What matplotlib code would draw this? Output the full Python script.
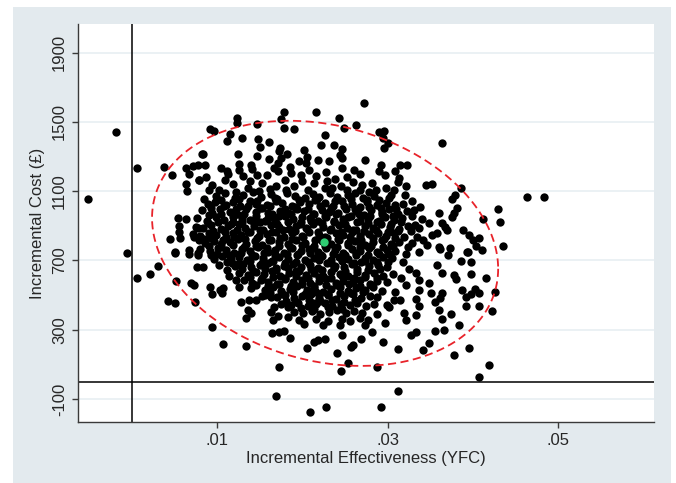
import numpy as np
import matplotlib.pyplot as plt
from matplotlib.patches import Rectangle

plt.rcParams['font.family'] = ['Liberation Sans', 'DejaVu Sans']

# bootstrap replicates
# each pair: (incremental effectiveness in 1/1000 YFC, incremental cost in GBP)
left_pts = [(-5.2, 1054), (-1.9, 1445), (0.6, 1235), (-0.6, 742), (0.55, 600), (2.15, 624),
            (3.1, 668), (5.2, 582), (4.2, 465), (5.0, 453), (7.4, 459), (6.9, 569), (7.3, 559),
            (7.6, 664), (5.0, 742), (6.7, 738), (7.7, 734), (3.75, 1238), (4.65, 1195),
            (6.3, 1237), (7.1, 1246), (7.8, 1252), (8.2, 1314), (6.7, 1200), (7.9, 1164),
            (6.3, 1141), (6.5, 1103), (8.4, 1054), (5.4, 946), (6.3, 942), (5.5, 902), (7.5, 892),
            (7.8, 890), (5.5, 867), (5.6, 832), (4.5, 825), (7.3, 838), (7.9, 819), (8.4, 825),
            (5.0, 751), (6.7, 761), (7.7, 745)]

upper_pts = [(17.8, 1560), (21.6, 1560), (12.3, 1522), (12.3, 1493), (17.5, 1518), (9.1, 1459),
             (9.6, 1450), (14.7, 1488), (17.8, 1468), (19.0, 1460), (11.5, 1431), (11.2, 1393),
             (12.9, 1407), (14.8, 1401), (16.1, 1387), (15.0, 1355), (17.4, 1349), (20.2, 1339),
             (22.2, 1368), (8.3, 1314), (12.4, 1316), (14.7, 1305), (17.2, 1330), (18.2, 1314),
             (20.5, 1295), (17.5, 1291), (8.6, 1252), (12.5, 1258), (14.0, 1252), (16.1, 1287),
             (17.1, 1263), (19.6, 1272), (20.4, 1263), (21.8, 1278), (10.4, 1233), (11.2, 1218),
             (11.3, 1199), (13.0, 1189), (14.1, 1229), (14.7, 1195), (16.7, 1237), (17.1, 1214),
             (18.7, 1205), (19.8, 1195), (21.6, 1189), (8.7, 1185), (9.4, 1137), (7.9, 1166),
             (27.2, 1611), (24.3, 1525), (24.9, 1464), (26.3, 1483), (22.7, 1426), (29.0, 1445),
             (29.6, 1450), (29.4, 1407), (30.1, 1378), (29.6, 1349), (23.7, 1368), (24.6, 1343),
             (24.4, 1310), (24.7, 1291), (27.3, 1281), (23.1, 1272), (29.2, 1252), (31.5, 1252),
             (32.3, 1252), (24.7, 1233), (26.0, 1223), (29.0, 1218), (30.9, 1218), (22.8, 1210),
             (25.2, 1185), (26.7, 1199), (29.7, 1195), (31.3, 1179), (23.8, 1170), (25.9, 1156),
             (28.2, 1147), (31.2, 1152), (32.2, 1133), (34.5, 1137), (35.2, 1141), (23.5, 1121),
             (24.5, 1131), (26.7, 1108), (27.8, 1098), (29.8, 1117), (30.4, 1079), (32.0, 1079),
             (10.2, 1110), (11.9, 1140), (13.6, 1120), (15.3, 1150), (16.2, 1112), (17.9, 1165),
             (19.0, 1128), (20.6, 1105), (21.4, 1150), (22.6, 1118), (12.6, 1225), (15.8, 1195),
             (18.5, 1240), (20.8, 1225), (13.8, 1160), (19.9, 1160), (16.9, 1130), (10.9, 1165),
             (9.0, 1105), (22.9, 1160), (27.0, 1135), (28.6, 1110), (30.8, 1110), (25.2, 1110),
             (12.2, 1098), (14.9, 1102), (18.1, 1105)]

right_pts = [(36.4, 1378), (33.1, 992), (36.0, 973), (33.7, 887), (34.9, 916), (35.8, 858),
             (35.2, 848), (34.1, 819), (36.0, 780), (33.7, 751), (32.4, 780), (38.6, 1117),
             (46.3, 1064), (48.4, 1069), (37.9, 1079), (37.5, 1054), (38.1, 1002), (37.8, 973),
             (37.6, 954), (42.9, 996), (41.2, 940), (43.2, 925), (36.4, 916), (36.7, 896),
             (37.0, 877), (38.9, 877), (39.5, 848), (40.0, 819), (40.7, 829), (40.4, 786),
             (41.1, 758), (43.5, 784), (39.4, 751), (37.3, 770), (36.2, 767), (37.1, 730),
             (39.3, 749), (38.6, 697), (39.8, 691), (36.4, 627), (37.8, 617), (38.0, 592),
             (39.8, 622), (41.5, 600), (38.7, 530), (40.3, 534), (42.6, 520), (39.2, 491),
             (39.8, 505), (40.7, 511), (36.2, 482), (36.4, 511), (39.2, 437), (40.7, 437),
             (42.2, 409), (37.4, 391), (36.4, 361), (36.6, 299), (38.4, 328), (39.5, 193),
             (37.8, 154), (41.9, 97), (40.7, 25),
             (32.9, 1045), (33.8, 1010), (32.8, 955), (34.0, 940), (33.2, 905), (32.7, 870),
             (33.5, 835), (32.9, 800), (34.6, 790), (32.1, 735), (31.8, 690), (32.5, 650),
             (31.6, 600), (32.2, 560), (30.9, 520), (31.4, 470), (30.2, 430)]

lower_pts = [(31.2, -52), (22.8, -144), (29.2, -148), (24.5, 64), (25.3, 110), (28.7, 87),
             (24.1, 164), (31.2, 187), (34.2, 183), (34.9, 225), (25.7, 199), (25.9, 212),
             (29.5, 231), (26.9, 245), (32.7, 270), (33.3, 289), (35.5, 293), (22.7, 245),
             (24.7, 270), (28.2, 289), (29.7, 337), (33.3, 386), (32.1, 357), (31.9, 395),
             (36.0, 414), (33.7, 437), (35.5, 462), (33.3, 476), (33.7, 530), (35.1, 511),
             (34.9, 569), (35.8, 674), (33.7, 588), (33.3, 627),
             (16.9, -83), (20.9, -173), (17.2, 83), (10.7, 216), (13.4, 207), (9.4, 318),
             (18.5, 251), (20.5, 197), (21.4, 231), (21.8, 241), (16.4, 283), (17.2, 289),
             (17.8, 293), (19.6, 357), (13.4, 366), (14.0, 399), (16.5, 357), (17.1, 381),
             (16.3, 405), (13.6, 414), (12.8, 458), (13.7, 472), (9.1, 549), (9.4, 505),
             (10.3, 530), (10.7, 540), (10.6, 511), (15.6, 501), (16.3, 491), (18.3, 433),
             (21.2, 453), (22.0, 472), (11.2, 646), (12.2, 588), (11.7, 685), (9.3, 734),
             (8.3, 664),
             (11.4, 610), (12.5, 548), (14.5, 470), (16.7, 430), (18.3, 372), (20.2, 335),
             (22.4, 330), (24.4, 325), (27.3, 330), (28.8, 390), (29.9, 440), (30.8, 470)]

# dense middle of the cloud, estimated row by row
core_pts = [
    (9.8, 1070), (10.9, 1088), (12.1, 1062), (13.0, 1080), (14.2, 1095), (15.1, 1066), (16.3, 1084),
    (17.0, 1058), (18.2, 1090), (19.1, 1072), (20.3, 1060), (21.2, 1085), (22.0, 1068), (23.2, 1092),
    (24.1, 1064), (25.3, 1078), (26.2, 1088), (27.1, 1060), (28.4, 1070), (29.0, 1052),
    (8.9, 1025), (9.7, 1040), (11.0, 1018), (11.8, 1036), (12.7, 1012), (13.9, 1044), (14.6, 1028),
    (15.8, 1020), (16.9, 1046), (17.6, 1030), (18.8, 1015), (19.7, 1038), (20.8, 1024), (21.5, 1048),
    (22.7, 1032), (23.6, 1016), (24.6, 1042), (25.8, 1026), (26.7, 1010), (27.6, 1038), (28.7, 1022),
    (29.8, 1034), (30.9, 1018), (31.8, 1028),
    (8.2, 990), (9.4, 975), (10.3, 998), (11.5, 982), (12.3, 970), (13.4, 995), (14.5, 978),
    (15.3, 1002), (16.4, 968), (17.4, 988), (18.3, 976), (19.4, 999), (20.2, 984), (21.3, 966),
    (22.3, 992), (23.1, 980), (24.2, 972), (25.1, 996), (26.3, 985), (27.2, 962), (28.1, 990),
    (29.3, 978), (30.2, 998), (31.2, 970), (32.3, 985),
    (7.6, 944), (8.8, 930), (9.9, 952), (10.8, 936), (11.9, 925), (12.9, 948), (13.8, 934),
    (15.0, 920), (15.9, 946), (16.8, 931), (17.9, 955), (18.9, 938), (19.8, 922), (20.9, 944),
    (21.8, 930), (22.8, 952), (23.7, 926), (24.8, 940), (25.7, 956), (26.8, 928), (27.7, 942),
    (28.8, 924), (29.7, 950), (30.8, 936), (31.7, 944),
    (8.3, 890), (9.3, 905), (10.4, 882), (11.3, 898), (12.5, 910), (13.3, 885), (14.3, 900),
    (15.4, 878), (16.3, 906), (17.3, 892), (18.4, 880), (19.3, 902), (20.4, 888), (21.2, 912),
    (22.4, 896), (23.3, 884), (24.3, 904), (25.2, 890), (26.3, 876), (27.3, 900), (28.3, 888),
    (29.2, 910), (30.3, 895), (31.3, 880), (32.4, 902),
    (7.2, 855), (8.0, 842), (9.0, 860), (9.9, 848), (11.0, 838), (11.9, 858), (12.8, 845),
    (13.8, 865), (14.9, 840), (15.8, 852), (16.9, 862), (17.8, 836), (18.8, 856), (19.9, 844),
    (20.8, 866), (21.9, 850), (22.7, 838), (23.9, 858), (24.8, 846), (25.8, 864), (26.7, 840),
    (27.8, 852), (28.9, 860), (29.8, 844), (30.8, 856), (31.9, 838),
    (8.6, 800), (9.6, 815), (10.5, 796), (11.5, 808), (12.4, 822), (13.4, 798), (14.4, 812),
    (15.3, 790), (16.3, 818), (17.3, 804), (18.3, 794), (19.3, 816), (20.3, 800), (21.3, 786),
    (22.3, 810), (23.4, 796), (24.3, 820), (25.3, 802), (26.2, 814), (27.3, 792), (28.3, 806),
    (29.3, 818), (30.4, 798), (31.3, 808),
    (8.0, 765), (9.1, 752), (10.1, 770), (11.0, 758), (12.0, 746), (12.9, 768), (13.9, 754),
    (14.8, 776), (15.9, 750), (16.8, 762), (17.8, 744), (18.8, 772), (19.8, 756), (20.8, 766),
    (21.8, 748), (22.8, 774), (23.8, 758), (24.8, 742), (25.8, 768), (26.8, 754), (27.8, 770),
    (28.8, 748), (29.9, 762), (30.9, 756),
    (9.6, 710), (10.6, 724), (11.6, 706), (12.5, 718), (13.5, 700), (14.4, 728), (15.4, 712),
    (16.4, 698), (17.3, 722), (18.3, 708), (19.4, 730), (20.3, 704), (21.4, 716), (22.3, 726),
    (23.3, 702), (24.3, 720), (25.4, 708), (26.3, 730), (27.4, 712), (28.3, 700), (29.4, 722),
    (30.5, 714),
    (10.2, 672), (12.1, 666), (13.0, 680), (14.0, 660), (15.0, 674), (15.9, 686), (16.9, 658),
    (17.8, 670), (18.9, 682), (19.8, 664), (20.9, 676), (21.8, 656), (22.9, 684), (23.8, 668),
    (24.9, 662), (25.8, 678), (26.9, 690), (27.8, 666), (28.9, 672), (29.9, 660),
    (12.6, 628), (13.6, 614), (14.5, 632), (15.5, 620), (16.4, 638), (17.4, 610), (18.4, 626),
    (19.3, 640), (20.4, 616), (21.3, 630), (22.4, 612), (23.3, 636), (24.4, 622), (25.3, 608),
    (26.4, 634), (27.3, 618), (28.4, 630), (29.4, 612), (30.6, 624),
    (13.2, 585), (14.1, 572), (15.1, 590), (16.0, 578), (17.0, 566), (18.0, 592), (18.9, 574),
    (19.9, 586), (20.9, 568), (21.9, 582), (22.8, 594), (23.9, 570), (24.8, 584), (25.9, 576),
    (26.8, 590), (27.9, 566), (28.8, 580), (29.9, 574),
    (14.0, 540), (15.6, 532), (16.5, 546), (17.5, 524), (18.5, 538), (19.4, 550), (20.5, 528),
    (21.4, 542), (22.4, 520), (23.4, 536), (24.4, 548), (25.4, 526), (26.3, 540), (27.4, 530),
    (28.3, 544), (29.3, 522),
    (15.2, 496), (17.0, 488), (18.0, 500), (19.0, 482), (19.9, 494), (21.0, 506), (21.9, 486),
    (23.0, 498), (23.9, 480), (24.9, 492), (25.9, 504), (26.9, 484), (27.9, 496), (28.8, 488),
    (17.5, 448), (18.6, 440), (19.5, 452), (20.6, 436), (21.6, 446), (22.6, 456), (23.5, 438),
    (24.5, 450), (25.6, 442), (26.4, 454), (27.5, 436), (28.4, 446),
    (19.0, 404), (20.1, 396), (21.1, 410), (22.1, 392), (23.1, 402), (24.0, 414), (25.1, 398),
    (26.0, 406), (27.0, 394),
    (21.6, 364), (23.0, 352), (24.6, 360), (25.6, 348), (26.8, 366), (27.7, 356),
]

# second, in-between layer of the dense middle
core_fill_pts = [
    (10.4, 1050), (12.6, 1056), (14.7, 1046), (16.8, 1060), (19.6, 1048), (21.7, 1058),
    (23.8, 1044), (25.7, 1054), (27.6, 1048), (30.2, 1060),
    (9.3, 1004), (10.8, 1012), (12.2, 998), (13.6, 1014), (15.0, 1004), (16.2, 1016),
    (17.9, 1000), (19.1, 1010), (20.6, 996), (22.1, 1014), (23.4, 1002), (24.9, 1016),
    (26.2, 998), (27.8, 1008), (29.2, 1002), (31.0, 996),
    (9.0, 960), (10.5, 968), (11.8, 954), (13.1, 966), (14.5, 958), (15.9, 972), (17.2, 956),
    (18.6, 966), (19.9, 952), (21.2, 970), (22.6, 958), (23.9, 968), (25.3, 954), (26.6, 966),
    (27.9, 958), (29.3, 970), (30.6, 956),
    (8.9, 916), (10.1, 924), (11.6, 910), (12.9, 922), (14.3, 914), (15.6, 928), (17.0, 912),
    (18.3, 920), (19.7, 908), (21.0, 926), (22.3, 914), (23.7, 922), (25.0, 910), (26.4, 924),
    (27.7, 916), (29.0, 928), (30.4, 912), (31.6, 920),
    (9.5, 872), (10.9, 864), (12.3, 878), (13.6, 866), (15.0, 876), (16.4, 862), (17.7, 874),
    (19.1, 868), (20.5, 880), (21.8, 866), (23.2, 874), (24.5, 862), (25.9, 878), (27.2, 868),
    (28.6, 874), (30.0, 864), (31.2, 870),
    (9.3, 828), (10.7, 820), (12.0, 834), (13.3, 822), (14.7, 832), (16.1, 818), (17.4, 830),
    (18.8, 824), (20.1, 836), (21.5, 820), (22.9, 830), (24.2, 824), (25.6, 834), (26.9, 818),
    (28.3, 830), (29.6, 826), (30.9, 832),
    (9.0, 782), (10.4, 776), (11.8, 788), (13.1, 778), (14.5, 786), (15.8, 774), (17.2, 784),
    (18.5, 780), (19.9, 790), (21.2, 774), (22.6, 786), (24.0, 778), (25.3, 788), (26.7, 776),
    (28.0, 784), (29.4, 780), (30.6, 786),
    (10.0, 738), (11.4, 730), (12.8, 742), (14.1, 734), (15.5, 744), (16.8, 730), (18.2, 740),
    (19.5, 736), (20.9, 746), (22.2, 732), (23.6, 740), (25.0, 734), (26.3, 744), (27.7, 730),
    (29.0, 740), (30.2, 736),
    (11.2, 692), (12.6, 686), (13.9, 696), (15.3, 688), (16.6, 698), (18.0, 686), (19.3, 694),
    (20.7, 690), (22.0, 700), (23.4, 686), (24.7, 696), (26.1, 688), (27.4, 698), (28.8, 690),
    (30.0, 694),
    (12.9, 648), (14.2, 642), (15.6, 652), (16.9, 644), (18.3, 654), (19.6, 642), (21.0, 650),
    (22.3, 646), (23.7, 656), (25.0, 642), (26.4, 650), (27.7, 644), (29.1, 652),
    (13.8, 602), (15.2, 596), (16.5, 606), (17.9, 598), (19.2, 608), (20.6, 596), (22.0, 604),
    (23.3, 600), (24.7, 610), (26.0, 596), (27.4, 604), (28.7, 598),
    (14.6, 558), (16.0, 552), (17.3, 562), (18.7, 554), (20.0, 564), (21.4, 552), (22.8, 560),
    (24.1, 556), (25.5, 566), (26.8, 552), (28.1, 560),
    (16.2, 512), (17.6, 506), (18.9, 516), (20.3, 508), (21.6, 518), (23.0, 506), (24.4, 514),
    (25.7, 510), (27.1, 518),
    (18.1, 468), (19.4, 462), (20.8, 472), (22.1, 464), (23.5, 474), (24.9, 462), (26.2, 470),
    (19.8, 425), (21.4, 420), (23.0, 430), (24.6, 422),
]

mean_eff = 0.02256
mean_cost = 807

# 95% confidence ellipse (centre, half-widths, tilt phase)
ell_cx, ell_cy = 0.02266, 799
ell_ax, ell_by = 0.02031, 708
ell_phase = 1.78

xticks = [0.01, 0.03, 0.05]
xtick_labels = ['.01', '.03', '.05']
yticks = [-100, 300, 700, 1100, 1500, 1900]

all_pts = left_pts + upper_pts + right_pts + lower_pts + core_pts + core_fill_pts
eff = np.array([p[0] for p in all_pts]) / 1000.0
cost = np.array([p[1] for p in all_pts])

fig = plt.figure(figsize=(6.76, 4.83), dpi=100)
fig.patch.set_facecolor('white')
# stata style graph region
fig.patches.append(Rectangle((13 / 676, 0), 658 / 676, 476 / 483, transform=fig.transFigure,
                             facecolor='#e3eaee', edgecolor='none', zorder=-10))

ax = fig.add_axes([78 / 676, 61 / 483, 576 / 676, 398 / 483])
ax.set_facecolor('white')
ax.set_xlim(-0.00634, 0.06126)
ax.set_ylim(-233, 2066)

ax.set_axisbelow(True)
ax.yaxis.grid(True, color='#e8eff2', lw=1.2)
for s in ['top', 'right']:
    ax.spines[s].set_visible(False)
for s in ['left', 'bottom']:
    ax.spines[s].set_color('#3a3a3a')
    ax.spines[s].set_linewidth(1.0)

ax.axvline(0, color='black', lw=1.1, zorder=2)
ax.axhline(0, color='black', lw=1.1, zorder=2)

ax.scatter(eff, cost, s=36, color='black', linewidths=0, zorder=3)

t = np.linspace(0, 2 * np.pi, 400)
ex = ell_cx + ell_ax * np.cos(t)
ey = ell_cy + ell_by * np.cos(t + ell_phase)
ax.plot(ex, ey, color='#e8232a', lw=1.3, ls=(0, (4.5, 2.5)), zorder=4)

ax.scatter([mean_eff], [mean_cost], s=36, color='#2fcc72', linewidths=0, zorder=5)

ax.set_xticks(xticks)
ax.set_xticklabels(xtick_labels)
ax.set_yticks(yticks)
ax.set_yticklabels([str(v) for v in yticks], rotation=90, va='center')
ax.tick_params(axis='both', labelsize=12, colors='#3a3a3a', labelcolor='#262626',
               length=4, width=1.0, pad=4)

ax.set_xlabel('Incremental Effectiveness (YFC)', fontsize=12, color='#262626', labelpad=2)
ax.set_ylabel('Incremental Cost (£)', fontsize=12, color='#262626', labelpad=5)

fig.savefig('out.png', dpi=100)
